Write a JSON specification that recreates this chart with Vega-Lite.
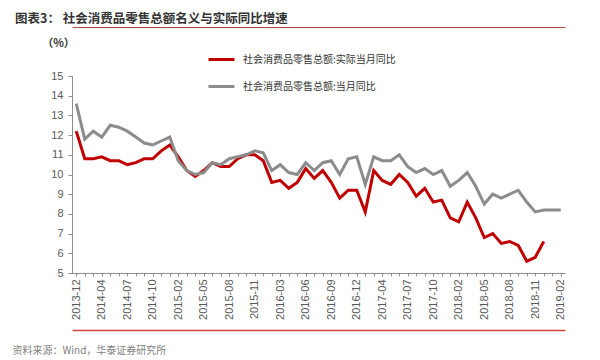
{
  "$schema": "https://vega.github.io/schema/vega-lite/v6.json",
  "autosize": {"type": "none"},
  "width": 493,
  "height": 197,
  "padding": {"left": 72, "top": 76, "right": 35, "bottom": 87},
  "background": "white",
  "title": {
    "text": "图表3：  社会消费品零售总额名义与实际同比增速",
    "anchor": "start",
    "frame": "group",
    "font": "Noto Sans CJK SC",
    "fontSize": 12.5,
    "fontWeight": "bold",
    "color": "#333333",
    "dx": -57,
    "dy": 2,
    "offset": 4
  },
  "config": {
    "view": {"stroke": null},
    "font": "Liberation Sans"
  },
  "resolve": {"scale": {"x": "independent"}, "axis": {"x": "independent"}},
  "layer": [
    {
      "data": {"values": [
        {"m": "2013-12", "s": "社会消费品零售总额:实际当月同比", "v": 12.2},
        {"m": "2014-02", "s": "社会消费品零售总额:实际当月同比", "v": 10.8},
        {"m": "2014-03", "s": "社会消费品零售总额:实际当月同比", "v": 10.8},
        {"m": "2014-04", "s": "社会消费品零售总额:实际当月同比", "v": 10.9},
        {"m": "2014-05", "s": "社会消费品零售总额:实际当月同比", "v": 10.7},
        {"m": "2014-06", "s": "社会消费品零售总额:实际当月同比", "v": 10.7},
        {"m": "2014-07", "s": "社会消费品零售总额:实际当月同比", "v": 10.5},
        {"m": "2014-08", "s": "社会消费品零售总额:实际当月同比", "v": 10.6},
        {"m": "2014-09", "s": "社会消费品零售总额:实际当月同比", "v": 10.8},
        {"m": "2014-10", "s": "社会消费品零售总额:实际当月同比", "v": 10.8},
        {"m": "2014-11", "s": "社会消费品零售总额:实际当月同比", "v": 11.2},
        {"m": "2014-12", "s": "社会消费品零售总额:实际当月同比", "v": 11.5},
        {"m": "2015-02", "s": "社会消费品零售总额:实际当月同比", "v": 10.9},
        {"m": "2015-03", "s": "社会消费品零售总额:实际当月同比", "v": 10.2},
        {"m": "2015-04", "s": "社会消费品零售总额:实际当月同比", "v": 9.9},
        {"m": "2015-05", "s": "社会消费品零售总额:实际当月同比", "v": 10.2},
        {"m": "2015-06", "s": "社会消费品零售总额:实际当月同比", "v": 10.6},
        {"m": "2015-07", "s": "社会消费品零售总额:实际当月同比", "v": 10.4},
        {"m": "2015-08", "s": "社会消费品零售总额:实际当月同比", "v": 10.4},
        {"m": "2015-09", "s": "社会消费品零售总额:实际当月同比", "v": 10.8},
        {"m": "2015-10", "s": "社会消费品零售总额:实际当月同比", "v": 11.0},
        {"m": "2015-11", "s": "社会消费品零售总额:实际当月同比", "v": 11.0},
        {"m": "2015-12", "s": "社会消费品零售总额:实际当月同比", "v": 10.7},
        {"m": "2016-02", "s": "社会消费品零售总额:实际当月同比", "v": 9.6},
        {"m": "2016-03", "s": "社会消费品零售总额:实际当月同比", "v": 9.7},
        {"m": "2016-04", "s": "社会消费品零售总额:实际当月同比", "v": 9.3},
        {"m": "2016-05", "s": "社会消费品零售总额:实际当月同比", "v": 9.6},
        {"m": "2016-06", "s": "社会消费品零售总额:实际当月同比", "v": 10.3},
        {"m": "2016-07", "s": "社会消费品零售总额:实际当月同比", "v": 9.8},
        {"m": "2016-08", "s": "社会消费品零售总额:实际当月同比", "v": 10.2},
        {"m": "2016-09", "s": "社会消费品零售总额:实际当月同比", "v": 9.6},
        {"m": "2016-10", "s": "社会消费品零售总额:实际当月同比", "v": 8.8},
        {"m": "2016-11", "s": "社会消费品零售总额:实际当月同比", "v": 9.2},
        {"m": "2016-12", "s": "社会消费品零售总额:实际当月同比", "v": 9.2},
        {"m": "2017-02", "s": "社会消费品零售总额:实际当月同比", "v": 8.1},
        {"m": "2017-03", "s": "社会消费品零售总额:实际当月同比", "v": 10.2},
        {"m": "2017-04", "s": "社会消费品零售总额:实际当月同比", "v": 9.7},
        {"m": "2017-05", "s": "社会消费品零售总额:实际当月同比", "v": 9.5},
        {"m": "2017-06", "s": "社会消费品零售总额:实际当月同比", "v": 10.0},
        {"m": "2017-07", "s": "社会消费品零售总额:实际当月同比", "v": 9.6},
        {"m": "2017-08", "s": "社会消费品零售总额:实际当月同比", "v": 8.9},
        {"m": "2017-09", "s": "社会消费品零售总额:实际当月同比", "v": 9.3},
        {"m": "2017-10", "s": "社会消费品零售总额:实际当月同比", "v": 8.6},
        {"m": "2017-11", "s": "社会消费品零售总额:实际当月同比", "v": 8.7},
        {"m": "2017-12", "s": "社会消费品零售总额:实际当月同比", "v": 7.8},
        {"m": "2018-02", "s": "社会消费品零售总额:实际当月同比", "v": 7.6},
        {"m": "2018-03", "s": "社会消费品零售总额:实际当月同比", "v": 8.6},
        {"m": "2018-04", "s": "社会消费品零售总额:实际当月同比", "v": 7.8},
        {"m": "2018-05", "s": "社会消费品零售总额:实际当月同比", "v": 6.8},
        {"m": "2018-06", "s": "社会消费品零售总额:实际当月同比", "v": 7.0},
        {"m": "2018-07", "s": "社会消费品零售总额:实际当月同比", "v": 6.5},
        {"m": "2018-08", "s": "社会消费品零售总额:实际当月同比", "v": 6.6},
        {"m": "2018-09", "s": "社会消费品零售总额:实际当月同比", "v": 6.4},
        {"m": "2018-10", "s": "社会消费品零售总额:实际当月同比", "v": 5.6},
        {"m": "2018-11", "s": "社会消费品零售总额:实际当月同比", "v": 5.8},
        {"m": "2018-12", "s": "社会消费品零售总额:实际当月同比", "v": 6.6},
        {"m": "2013-12", "s": "社会消费品零售总额:当月同比", "v": 13.6},
        {"m": "2014-02", "s": "社会消费品零售总额:当月同比", "v": 11.8},
        {"m": "2014-03", "s": "社会消费品零售总额:当月同比", "v": 12.2},
        {"m": "2014-04", "s": "社会消费品零售总额:当月同比", "v": 11.9},
        {"m": "2014-05", "s": "社会消费品零售总额:当月同比", "v": 12.5},
        {"m": "2014-06", "s": "社会消费品零售总额:当月同比", "v": 12.4},
        {"m": "2014-07", "s": "社会消费品零售总额:当月同比", "v": 12.2},
        {"m": "2014-08", "s": "社会消费品零售总额:当月同比", "v": 11.9},
        {"m": "2014-09", "s": "社会消费品零售总额:当月同比", "v": 11.6},
        {"m": "2014-10", "s": "社会消费品零售总额:当月同比", "v": 11.5},
        {"m": "2014-11", "s": "社会消费品零售总额:当月同比", "v": 11.7},
        {"m": "2014-12", "s": "社会消费品零售总额:当月同比", "v": 11.9},
        {"m": "2015-02", "s": "社会消费品零售总额:当月同比", "v": 10.7},
        {"m": "2015-03", "s": "社会消费品零售总额:当月同比", "v": 10.2},
        {"m": "2015-04", "s": "社会消费品零售总额:当月同比", "v": 10.0},
        {"m": "2015-05", "s": "社会消费品零售总额:当月同比", "v": 10.1},
        {"m": "2015-06", "s": "社会消费品零售总额:当月同比", "v": 10.6},
        {"m": "2015-07", "s": "社会消费品零售总额:当月同比", "v": 10.5},
        {"m": "2015-08", "s": "社会消费品零售总额:当月同比", "v": 10.8},
        {"m": "2015-09", "s": "社会消费品零售总额:当月同比", "v": 10.9},
        {"m": "2015-10", "s": "社会消费品零售总额:当月同比", "v": 11.0},
        {"m": "2015-11", "s": "社会消费品零售总额:当月同比", "v": 11.2},
        {"m": "2015-12", "s": "社会消费品零售总额:当月同比", "v": 11.1},
        {"m": "2016-02", "s": "社会消费品零售总额:当月同比", "v": 10.2},
        {"m": "2016-03", "s": "社会消费品零售总额:当月同比", "v": 10.5},
        {"m": "2016-04", "s": "社会消费品零售总额:当月同比", "v": 10.1},
        {"m": "2016-05", "s": "社会消费品零售总额:当月同比", "v": 10.0},
        {"m": "2016-06", "s": "社会消费品零售总额:当月同比", "v": 10.6},
        {"m": "2016-07", "s": "社会消费品零售总额:当月同比", "v": 10.2},
        {"m": "2016-08", "s": "社会消费品零售总额:当月同比", "v": 10.6},
        {"m": "2016-09", "s": "社会消费品零售总额:当月同比", "v": 10.7},
        {"m": "2016-10", "s": "社会消费品零售总额:当月同比", "v": 10.0},
        {"m": "2016-11", "s": "社会消费品零售总额:当月同比", "v": 10.8},
        {"m": "2016-12", "s": "社会消费品零售总额:当月同比", "v": 10.9},
        {"m": "2017-02", "s": "社会消费品零售总额:当月同比", "v": 9.5},
        {"m": "2017-03", "s": "社会消费品零售总额:当月同比", "v": 10.9},
        {"m": "2017-04", "s": "社会消费品零售总额:当月同比", "v": 10.7},
        {"m": "2017-05", "s": "社会消费品零售总额:当月同比", "v": 10.7},
        {"m": "2017-06", "s": "社会消费品零售总额:当月同比", "v": 11.0},
        {"m": "2017-07", "s": "社会消费品零售总额:当月同比", "v": 10.4},
        {"m": "2017-08", "s": "社会消费品零售总额:当月同比", "v": 10.1},
        {"m": "2017-09", "s": "社会消费品零售总额:当月同比", "v": 10.3},
        {"m": "2017-10", "s": "社会消费品零售总额:当月同比", "v": 10.0},
        {"m": "2017-11", "s": "社会消费品零售总额:当月同比", "v": 10.2},
        {"m": "2017-12", "s": "社会消费品零售总额:当月同比", "v": 9.4},
        {"m": "2018-02", "s": "社会消费品零售总额:当月同比", "v": 9.7},
        {"m": "2018-03", "s": "社会消费品零售总额:当月同比", "v": 10.1},
        {"m": "2018-04", "s": "社会消费品零售总额:当月同比", "v": 9.4},
        {"m": "2018-05", "s": "社会消费品零售总额:当月同比", "v": 8.5},
        {"m": "2018-06", "s": "社会消费品零售总额:当月同比", "v": 9.0},
        {"m": "2018-07", "s": "社会消费品零售总额:当月同比", "v": 8.8},
        {"m": "2018-08", "s": "社会消费品零售总额:当月同比", "v": 9.0},
        {"m": "2018-09", "s": "社会消费品零售总额:当月同比", "v": 9.2},
        {"m": "2018-10", "s": "社会消费品零售总额:当月同比", "v": 8.6},
        {"m": "2018-11", "s": "社会消费品零售总额:当月同比", "v": 8.1},
        {"m": "2018-12", "s": "社会消费品零售总额:当月同比", "v": 8.2},
        {"m": "2019-01", "s": "社会消费品零售总额:当月同比", "v": 8.2},
        {"m": "2019-02", "s": "社会消费品零售总额:当月同比", "v": 8.2}
      ]},
      "mark": {"type": "line", "strokeWidth": 3},
      "encoding": {
        "x": {
          "field": "m", "type": "ordinal",
          "scale": {"type": "point", "padding": 0.5},
          "axis": {
            "labelExpr": "indexof(['2013-12','2014-04','2014-07','2014-10','2015-02','2015-05','2015-08','2015-11','2016-03','2016-06','2016-09','2016-12','2017-04','2017-07','2017-10','2018-02','2018-05','2018-08','2018-11','2019-02'], datum.value) >= 0 ? datum.value : ''",
            "labelAngle": -90,
            "labelAlign": "right",
            "labelBaseline": "middle",
            "labelFontSize": 11,
            "labelColor": "#595959",
            "labelPadding": 3,
            "labelOverlap": false,
            "labelBound": false,
            "tickSize": 3,
            "tickColor": "#8c8c8c",
            "domainColor": "#8c8c8c",
            "title": "资料来源：Wind，华泰证券研究所",
            "titleFont": "Noto Sans CJK SC",
            "titleFontSize": 10,
            "titleFontWeight": "normal",
            "titleColor": "#7f7f7f",
            "titleX": -60,
            "titleY": 80,
            "titleAlign": "left",
            "titleBaseline": "alphabetic",
            "titleAnchor": "start"
          }
        },
        "y": {
          "field": "v", "type": "quantitative",
          "scale": {"domain": [5, 15], "nice": false, "zero": false},
          "axis": {
            "values": [5, 6, 7, 8, 9, 10, 11, 12, 13, 14, 15],
            "grid": false,
            "labelFontSize": 11,
            "labelColor": "#595959",
            "labelPadding": 5,
            "tickSize": 4,
            "tickColor": "#8c8c8c",
            "domainColor": "#8c8c8c",
            "title": "（%）",
            "titleAngle": 0,
            "titleX": -14,
            "titleY": -33,
            "titleAlign": "center",
            "titleBaseline": "middle",
            "titleFont": "Noto Sans CJK SC",
            "titleFontSize": 11,
            "titleFontWeight": "bold",
            "titleColor": "#333333"
          }
        },
        "color": {
          "field": "s", "type": "nominal",
          "scale": {
            "domain": ["社会消费品零售总额:实际当月同比", "社会消费品零售总额:当月同比"],
            "range": ["#c00000", "#8c8c8c"]
          },
          "legend": {
            "orient": "none",
            "legendX": 135,
            "legendY": -31,
            "title": null,
            "padding": 0,
            "symbolType": "stroke",
            "symbolSize": 676,
            "symbolStrokeWidth": 3,
            "labelFont": "Noto Sans CJK SC",
            "labelFontSize": 10,
            "labelColor": "#333333",
            "labelOffset": 7,
            "rowPadding": 6
          }
        }
      }
    },
    {
      "data": {"values": [{"k": 0}, {"k": 1}]},
      "mark": {"type": "point", "opacity": 0},
      "encoding": {
        "x": {
          "field": "k", "type": "quantitative",
          "scale": {"domain": [0, 1], "nice": false, "zero": false},
          "axis": null
        }
      }
    },
    {
      "data": {"values": [{"k": 0}, {"k": 1}]},
      "mark": {"type": "point", "opacity": 0},
      "encoding": {
        "x": {
          "field": "k", "type": "quantitative",
          "scale": {"domain": [0, 1], "nice": false, "zero": false},
          "axis": {
            "orient": "top",
            "offset": 49,
            "domainColor": "#b0503c",
            "domainWidth": 1,
            "ticks": false,
            "labels": false,
            "grid": false,
            "title": null
          }
        }
      }
    },
    {
      "data": {"values": [{"k": 0}, {"k": 1}]},
      "mark": {"type": "point", "opacity": 0},
      "encoding": {
        "x": {
          "field": "k", "type": "quantitative",
          "scale": {"domain": [0, 1], "nice": false, "zero": false},
          "axis": {
            "orient": "bottom",
            "offset": 57,
            "domainColor": "#d0463c",
            "domainWidth": 1.5,
            "ticks": false,
            "labels": false,
            "grid": false,
            "title": null
          }
        }
      }
    }
  ]
}
